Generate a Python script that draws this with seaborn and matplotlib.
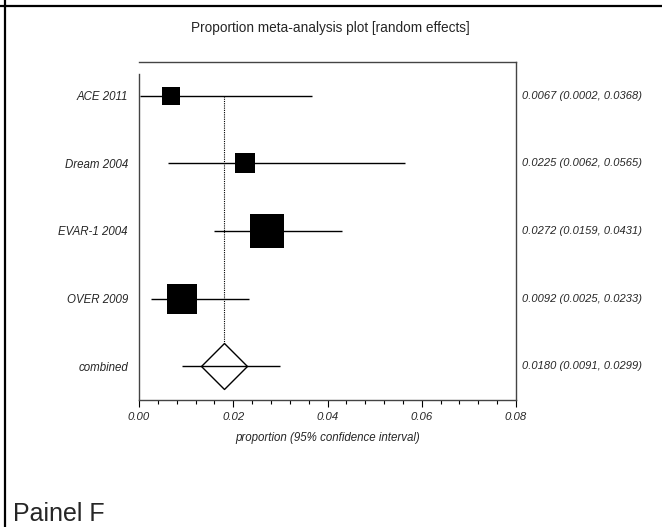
import numpy as np
import pandas as pd
import seaborn as sns
import matplotlib.pyplot as plt
from matplotlib.lines import Line2D

# Study data
studies = ["ACE 2011", "Dream 2004", "EVAR-1 2004", "OVER 2009"]
estimates = [0.0067, 0.0225, 0.0272, 0.0092]
lower = [0.0002, 0.0062, 0.0159, 0.0025]
upper = [0.0368, 0.0565, 0.0431, 0.0233]
weights = [11.7, 14.4, 41.6, 32.3]

# Pooled (random effects)
pooled_label = "combined"
pooled_est = 0.0180
pooled_lo = 0.0091
pooled_hi = 0.0299

x_ticks = [0.00, 0.02, 0.04, 0.06, 0.08]

sns.set_theme(style="white")
plt.rcParams['font.family'] = ['Liberation Sans', 'DejaVu Sans']

# Rows top to bottom: studies then combined
n = len(studies)
rows = np.arange(n + 1, 1, -1)
pooled_row = 1

df = pd.DataFrame({"study": studies, "est": estimates, "lo": lower,
                   "hi": upper, "w": weights, "row": rows})

fig = plt.figure(figsize=(6.62, 5.27), dpi=100)
ax = fig.add_axes([0.2100, 0.2410, 0.5695, 0.6414])

# Confidence interval lines for studies
ax.hlines(df["row"], df["lo"], df["hi"], color="black", lw=1.0, zorder=2)

# Weighted squares
sns.scatterplot(data=df, x="est", y="row", size="w", sizes=(0, 14.4 * max(weights)),
                size_norm=(0, max(weights)), marker="s", color="black",
                linewidth=0, legend=False, ax=ax, zorder=3)

# Dotted reference line at pooled estimate
ax.vlines(pooled_est, pooled_row, rows[0], color="black", lw=0.8,
          linestyle=(0, (1, 1)), zorder=1)

# Pooled diamond
ax.scatter([pooled_est], [pooled_row], s=548, marker="D", facecolor="white",
           edgecolor="black", linewidth=1.0, zorder=2)
ax.hlines(pooled_row, pooled_lo, pooled_hi, color="black", lw=1.0, zorder=3)

# Axes setup
ax.set_xlim(0, 0.08)
ax.set_ylim(0.5, n + 1.5)
ax.set_xticks(x_ticks)
ax.set_xticklabels([f"{t:.2f}" for t in x_ticks], fontsize=8.2, style="italic")
ax.set_xticks(np.arange(0, 0.0801, 0.004), minor=True)
ax.tick_params(axis="x", which="major", direction="out", length=5, width=0.8,
               color="black", pad=4, bottom=True)
ax.tick_params(axis="x", which="minor", direction="out", length=3, width=0.8,
               color="black", bottom=True)
ax.set_xlabel("proportion (95% confidence interval)", fontsize=8.3,
              style="italic", labelpad=7)

ax.set_yticks(list(rows) + [pooled_row])
ax.set_yticklabels(studies + [pooled_label], fontsize=8.3, style="italic")
ax.tick_params(axis="y", length=0, pad=8)
ax.set_ylabel("")

for side in ["left", "right", "top", "bottom"]:
    ax.spines[side].set_visible(True)
    ax.spines[side].set_color("#444444")
    ax.spines[side].set_linewidth(1.0)
ax.spines["left"].set_bounds(0.5, n + 1.32)

# Estimates text on right
trans = ax.get_yaxis_transform()
for r, e, l, h in zip(rows, estimates, lower, upper):
    ax.text(1.016, r, f"{e:.4f} ({l:.4f}, {h:.4f})", transform=trans,
            fontsize=8, style="italic", va="center", ha="left")
ax.text(1.016, pooled_row, f"{pooled_est:.4f} ({pooled_lo:.4f}, {pooled_hi:.4f})",
        transform=trans, fontsize=8, style="italic", va="center", ha="left")

# Title
fig.text(0.4985, 1 - 28 / 527, "Proportion meta-analysis plot [random effects]",
         fontsize=9.8, ha="center", va="center")

# Panel label
fig.text(13 / 662, 1 / 527, "Painel F", fontsize=18, ha="left", va="bottom")

# Outer frame lines
fig.add_artist(Line2D([5 / 662, 5 / 662], [0, 1], color="black", lw=1.6))
fig.add_artist(Line2D([0, 1], [1 - 6 / 527, 1 - 6 / 527], color="black", lw=1.6))

fig.savefig("out.png", dpi=100)
plt.close()
